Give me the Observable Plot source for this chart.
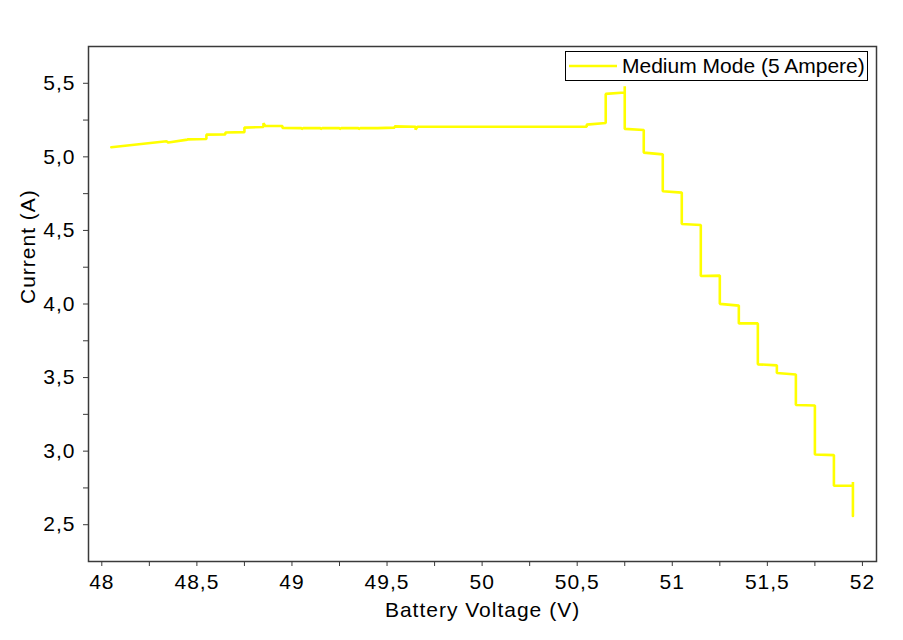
<!DOCTYPE html>
<html>
<head>
<meta charset="utf-8">
<script src="https://cdn.jsdelivr.net/npm/d3@7"></script>
<script src="https://cdn.jsdelivr.net/npm/@observablehq/plot@0.6"></script>
<style>
  html, body { margin: 0; padding: 0; background: #fff; }
  #wrap { position: relative; width: 903px; height: 640px; }
  #wrap svg text { letter-spacing: 1px; }
  #legend {
    position: absolute; left: 565px; top: 51px; width: 301px; height: 28px;
    border: 1px solid #000; background: #fff; box-sizing: content-box;
    font-family: "Liberation Sans", Arial, sans-serif; font-size: 21px; color: #000;
  }
  #legend svg { position: absolute; left: 0; top: 0; }
  #legend span { position: absolute; left: 56px; top: 2px; line-height: 24px; white-space: nowrap; }
</style>
</head>
<body>
<div id="wrap"></div>
<script>
// Battery voltage (V) readings, in measurement order
const voltage = [48.05, 48.34, 48.35, 48.45, 48.45, 48.55, 48.55, 48.65, 48.65, 48.75, 48.75, 48.85, 48.85, 48.86, 48.95, 48.95,
  49.05, 49.05, 49.06, 49.15, 49.15, 49.16, 49.25, 49.25, 49.26, 49.35, 49.35, 49.36, 49.45, 49.54, 49.54, 49.65, 49.65, 49.66,
  50.0, 50.55, 50.55, 50.65, 50.65, 50.75, 50.75, 50.75, 50.85, 50.85, 50.95, 50.95, 51.05, 51.05, 51.15, 51.15, 51.25, 51.25,
  51.35, 51.35, 51.45, 51.45, 51.55, 51.55, 51.65, 51.65, 51.75, 51.75, 51.85, 51.85, 51.95, 51.95, 51.95];
// Current (A) readings
const current = [5.065, 5.106, 5.097, 5.117, 5.119, 5.121, 5.151, 5.153, 5.166, 5.168, 5.199, 5.203, 5.228, 5.21, 5.21, 5.196,
  5.195, 5.188, 5.196, 5.195, 5.188, 5.196, 5.195, 5.188, 5.196, 5.195, 5.188, 5.196, 5.195, 5.199, 5.207, 5.205, 5.185, 5.205,
  5.205, 5.205, 5.219, 5.23, 5.428, 5.437, 5.48, 5.19, 5.183, 5.029, 5.017, 4.766, 4.757, 4.544, 4.537, 4.19, 4.193, 4.001,
  3.989, 3.868, 3.868, 3.59, 3.583, 3.531, 3.521, 3.314, 3.31, 2.977, 2.973, 2.765, 2.765, 2.79, 2.56];

const xMajor = [48, 48.5, 49, 49.5, 50, 50.5, 51, 51.5, 52];
const xMinor = [48.25, 48.75, 49.25, 49.75, 50.25, 50.75, 51.25, 51.75];
const yMajor = [2.5, 3.0, 3.5, 4.0, 4.5, 5.0, 5.5];
const yMinor = [2.75, 3.25, 3.75, 4.25, 4.75, 5.25];

const seriesName = "Medium Mode (5 Ampere)";
const xTitle = "Battery Voltage (V)";
const yTitle = "Current (A)";

const data = voltage.map((v, i) => ({v, c: current[i]}));
const fmtX = d => String(d).replace(".", ",");
const fmtY = d => d3.format(".1f")(d).replace(".", ",");
const axisColor = "#3a3a3a";

const chart = Plot.plot({
  width: 903,
  height: 640,
  marginLeft: 88,
  marginRight: 27,
  marginTop: 46,
  marginBottom: 79,
  style: {fontFamily: "'Liberation Sans', Arial, sans-serif", fontSize: "21px", background: "#fff", color: "#000"},
  x: {domain: [47.93, 52.074]},
  y: {domain: [2.25, 5.75]},
  marks: [
    Plot.line(data, {x: "v", y: "c", stroke: "#ffff00", strokeWidth: 2.6, strokeLinejoin: "miter"}),
    Plot.frame({stroke: axisColor, strokeWidth: 1.5}),
    Plot.axisX(xMajor, {tickSize: 5, tickPadding: 8, tickFormat: fmtX, label: null, stroke: axisColor, fill: "#000", fontSize: 21}),
    Plot.axisX(xMinor, {tickSize: 5, tickFormat: () => "", label: null, stroke: axisColor}),
    Plot.axisY(yMajor, {tickSize: 5, tickPadding: 8, tickFormat: fmtY, label: null, stroke: axisColor, fill: "#000", fontSize: 21}),
    Plot.axisY(yMinor, {tickSize: 5, tickFormat: () => "", label: null, stroke: axisColor}),
    Plot.text([xTitle], {frameAnchor: "bottom", dy: 49, lineAnchor: "middle", fontSize: 21, fill: "#000"}),
    Plot.text([yTitle], {frameAnchor: "left", dx: -60, rotate: -90, lineAnchor: "middle", fontSize: 21, fill: "#000"})
  ]
});

const wrap = document.getElementById("wrap");
wrap.appendChild(chart);

const legend = document.createElement("div");
legend.id = "legend";
legend.innerHTML = '<svg width="60" height="28"><line x1="3" x2="51" y1="14" y2="14" stroke="#ffff00" stroke-width="2.6"/></svg>';
const label = document.createElement("span");
label.textContent = seriesName;
legend.appendChild(label);
wrap.appendChild(legend);
</script>
</body>
</html>
